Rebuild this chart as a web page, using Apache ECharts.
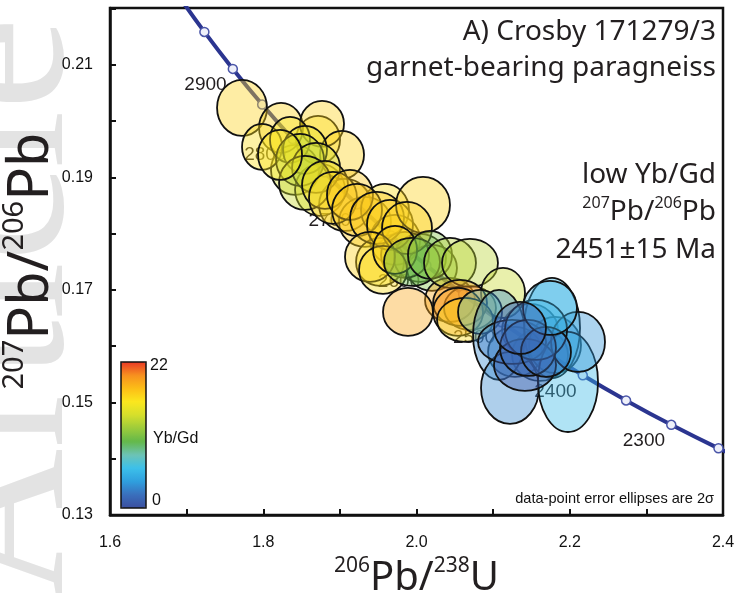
<!DOCTYPE html>
<html>
<head>
<meta charset="utf-8">
<script src="https://cdn.jsdelivr.net/npm/echarts@6/dist/echarts.min.js"></script>
<style>
  html, body { margin: 0; padding: 0; background: #fff; }
  #chart { width: 737px; height: 593px; }
</style>
</head>
<body>
<div id="chart"></div>
<script>
  // concordia marks (Tera-Wasserburg), every 50 Ma
  const concAge = [2200, 2250, 2300, 2350, 2400, 2450, 2500, 2550, 2600, 2650, 2700, 2750, 2800, 2850, 2900, 2950, 3000];
  const concX = [2.4586, 2.3941, 2.3325, 2.2735, 2.2170, 2.1628, 2.1108, 2.0609, 2.0129, 1.9668, 1.9224, 1.8796, 1.8384, 1.7986, 1.7603, 1.7232, 1.6875];
  const concY = [0.13782, 0.14186, 0.14603, 0.15036, 0.15483, 0.15947, 0.16426, 0.16923, 0.17437, 0.17969, 0.18520, 0.19091, 0.19682, 0.20294, 0.20928, 0.21585, 0.22266];

  // zircon spots: centre, 2 sigma half widths, Yb/Gd (drawn in this order)
  const spotX = [1.8715, 1.8414, 1.8741, 1.9067, 1.9328, 1.9589, 1.9720, 1.9524,
    2.0046, 2.0202, 1.9850, 2.0437, 2.0698, 2.1481, 2.1612, 2.1286, 2.1808,
    1.7723, 1.8232, 1.8767, 1.7984, 1.9028, 1.8349, 1.8545, 1.8480, 1.8689, 1.8545,
    1.8219, 1.8806, 1.8910, 1.9132, 1.9224, 1.9485, 1.9654, 2.0085, 1.9876, 1.9393,
    1.9563, 1.9720, 1.9941, 2.0176, 2.0437, 2.0698, 2.1129, 1.9889, 2.0568, 2.0542,
    2.0633, 2.0829,
    2.1077, 2.1220, 2.1769, 2.1977, 2.2108, 2.1247, 2.1416, 2.1560, 2.1455, 2.1690, 2.1742, 2.1351];
  const spotY = [0.19667, 0.19133, 0.18778, 0.18511, 0.18209, 0.18422, 0.17889, 0.17498,
    0.17569, 0.17391, 0.17622, 0.16822, 0.16680, 0.16289, 0.15844, 0.15898, 0.16022,
    0.20236, 0.19880, 0.19951, 0.19542, 0.19400, 0.19667, 0.19489, 0.19311, 0.19169, 0.18902,
    0.19400, 0.18867, 0.18636, 0.18689, 0.18422, 0.18280, 0.18156, 0.18511, 0.18102, 0.17587,
    0.17356, 0.17711, 0.17498, 0.17622, 0.17480, 0.17480, 0.16947, 0.16609, 0.16769, 0.16609,
    0.16467, 0.16609,
    0.16200, 0.15258, 0.16324, 0.15364, 0.16076, 0.16076, 0.15667, 0.16289, 0.15969, 0.15898, 0.16680, 0.16324];
  const spotEx = [0.0287, 0.0313, 0.0326, 0.0339, 0.0339, 0.0313, 0.0326, 0.0313,
    0.0339, 0.0326, 0.0313, 0.0326, 0.0339, 0.0365, 0.0365, 0.0352, 0.0339,
    0.0326, 0.0287, 0.0287, 0.0261, 0.0287, 0.0261, 0.0287, 0.0313, 0.0313, 0.0339,
    0.0287, 0.0300, 0.0313, 0.0300, 0.0326, 0.0352, 0.0300, 0.0352, 0.0326, 0.0326,
    0.0313, 0.0287, 0.0365, 0.0287, 0.0339, 0.0365, 0.0287, 0.0326, 0.0352, 0.0326,
    0.0365, 0.0287,
    0.0339, 0.0378, 0.0365, 0.0392, 0.0352, 0.0444, 0.0405, 0.0405, 0.0365, 0.0326, 0.0352, 0.0339];
  const spotEy = [0.00427, 0.00444, 0.00462, 0.00462, 0.00444, 0.00462, 0.00444, 0.00427,
    0.00427, 0.00409, 0.00409, 0.00391, 0.00391, 0.00462, 0.00462, 0.00444, 0.00498,
    0.00498, 0.00444, 0.00409, 0.00409, 0.00427, 0.00409, 0.00427, 0.00462, 0.00444, 0.00480,
    0.00444, 0.00427, 0.00462, 0.00444, 0.00462, 0.00462, 0.00444, 0.00498, 0.00462, 0.00444,
    0.00427, 0.00427, 0.00427, 0.00427, 0.00444, 0.00427, 0.00444, 0.00427, 0.00409, 0.00427,
    0.00391, 0.00391,
    0.00800, 0.00640, 0.00889, 0.00889, 0.00533, 0.00391, 0.00462, 0.00533, 0.00498, 0.00444, 0.00480, 0.00462];
  const spotYbGd = [16, 14, 15, 17, 17.5, 16.5, 16, 16,
    10.5, 11, 10, 19, 19.5, 1, 1.5, 2.5, 3,
    17, 17, 17, 16.5, 17, 16, 15, 13, 14, 13.5,
    16, 16.5, 17, 17.5, 17.5, 17.5, 17, 17, 17, 17,
    16.5, 17, 10, 11, 13, 13, 13.5, 19, 19.5, 19.5,
    16.5, 7.5,
    3, 3, 5.5, 5.5, 3.5, 2.5, 0.5, 5.5, 1.5, 2, 5, 1];

  // Yb/Gd colour ramp, one stop every 2 units from 0 to 22
  const rampColors = ['#3b4fa0', '#3a6fbc', '#2f9fde', '#3cc0ea', '#6dc3b5', '#63b84a',
    '#9ccb3b', '#d5df2c', '#fbe71e', '#fcbe17', '#f7901f', '#e93a26'];

  const textColor = '#231f20';
  const titleFont = '"Noto Sans", sans-serif';
  const tickFont = '"Liberation Sans", Arial, sans-serif';

  const concData = concAge.map((a, i) => [concX[i], concY[i], a]);
  const spotData = spotX.map((x, i) => [x, spotY[i], spotEx[i], spotEy[i], spotYbGd[i]]);

  const xNameRich = {
    m: { fontSize: 40, lineHeight: 46, fontFamily: titleFont, color: textColor },
    s: { fontSize: 21, lineHeight: 30, verticalAlign: 'top', fontFamily: titleFont, color: textColor }
  };
  const yNameRich = {
    m: { fontSize: 56, lineHeight: 64, fontFamily: titleFont, fill: textColor },
    s: { fontSize: 29, lineHeight: 42, verticalAlign: 'top', fontFamily: titleFont, fill: textColor }
  };
  const boxRich = {
    m: { fontSize: 28, lineHeight: 34, fontFamily: titleFont, fill: textColor },
    s: { fontSize: 16, lineHeight: 22, verticalAlign: 'top', fontFamily: titleFont, fill: textColor }
  };

  var chart = echarts.init(document.getElementById('chart'));
  const option = {
    animation: false,
    backgroundColor: '#fff',
    grid: { left: 110, right: 14, top: 8, bottom: 78, outerBoundsMode: 'none',
      show: true, borderColor: '#111', borderWidth: 2.5 },
    xAxis: {
      type: 'value', min: 1.6, max: 2.4, interval: 0.2,
      name: '{s|206}{m|Pb/}{s|238}{m|U}', nameLocation: 'middle', nameGap: 41,
      nameTextStyle: { rich: xNameRich },
      axisLine: { lineStyle: { color: '#111', width: 2.5 } },
      axisTick: { inside: true, length: 6, lineStyle: { color: '#111', width: 2 } },
      minorTick: { show: true, splitNumber: 2, length: 6, lineStyle: { color: '#111', width: 2 } },
      splitLine: { show: false },
      axisLabel: { margin: 20, fontSize: 16, fontFamily: tickFont, color: '#111',
        formatter: v => v.toFixed(1) }
    },
    yAxis: {
      type: 'value', min: 0.13, max: 0.2201, interval: 0.02,
      axisLine: { lineStyle: { color: '#111', width: 2.5 } },
      axisTick: { inside: true, length: 6, lineStyle: { color: '#111', width: 2 } },
      minorTick: { show: true, splitNumber: 2, length: 6, lineStyle: { color: '#111', width: 2 } },
      splitLine: { show: false },
      axisLabel: { margin: 17, fontSize: 16, fontFamily: tickFont, color: '#111', showMaxLabel: false,
        formatter: v => v.toFixed(2) }
    },
    visualMap: {
      type: 'continuous', min: 0, max: 22, dimension: 4, seriesIndex: 1,
      orient: 'vertical', left: 121, top: 362, itemWidth: 25, itemHeight: 146,
      padding: 0, calculable: false, hoverLink: false,
      inRange: { color: rampColors }
    },
    series: [
      {
        name: 'concordia', type: 'line', data: concData, z: 2,
        symbol: 'circle', symbolSize: 9, smooth: true,
        lineStyle: { color: '#2b3590', width: 4 },
        itemStyle: { color: '#eef0fa', borderColor: '#4a55a8', borderWidth: 1.5 },
        label: {
          show: true, position: 'left', offset: [4, 16], fontSize: 19, fontFamily: tickFont, color: textColor,
          formatter: p => (p.data[2] % 100 === 0 ? String(p.data[2]) : '')
        }
      },
      {
        name: 'spots', type: 'custom', data: spotData, z: 3,
        renderItem: function (params, api) {
          const c = api.coord([api.value(0), api.value(1)]);
          const s = api.size([api.value(2), api.value(3)]);
          return {
            type: 'ellipse',
            shape: { cx: c[0], cy: c[1], rx: s[0], ry: s[1] },
            style: { fill: echarts.color.modifyAlpha(api.visual('color'), 0.4), stroke: '#111', lineWidth: 1.8 }
          };
        }
      }
    ],
    graphic: [
      { type: 'text', x: 112, y: 600, rotation: Math.PI / 2, z: -1, silent: true,
        style: { text: 'Article', font: '210px "Liberation Serif", serif', fill: '#e3e3e3', align: 'left', verticalAlign: 'bottom' } },
      // y axis title
      { type: 'text', x: 32, y: 261, rotation: Math.PI / 2, z: 5,
        style: { text: '{s|207}{m|Pb/}{s|206}{m|Pb}', rich: yNameRich, align: 'center', verticalAlign: 'middle' } },
      { type: 'rect', shape: { x: 121, y: 362, width: 25, height: 146 }, z: 10,
        style: { fill: 'none', stroke: '#111', lineWidth: 1.5 } },
      { type: 'text', x: 150, y: 366, z: 10, style: { text: '22', font: '16px ' + tickFont, fill: '#111', verticalAlign: 'middle' } },
      { type: 'text', x: 152, y: 501, z: 10, style: { text: '0', font: '16px ' + tickFont, fill: '#111', verticalAlign: 'middle' } },
      { type: 'text', x: 153, y: 439, z: 10, style: { text: 'Yb/Gd', font: '16px ' + tickFont, fill: '#111', verticalAlign: 'middle' } },
      { type: 'text', x: 716, y: 32, z: 10, style: { text: 'A) Crosby 171279/3', font: '28px ' + titleFont, fill: textColor, align: 'right', verticalAlign: 'middle' } },
      { type: 'text', x: 716, y: 68, z: 10, style: { text: 'garnet-bearing paragneiss', font: '28px ' + titleFont, fill: textColor, align: 'right', verticalAlign: 'middle' } },
      { type: 'text', x: 716, y: 175, z: 10, style: { text: 'low Yb/Gd', font: '28px ' + titleFont, fill: textColor, align: 'right', verticalAlign: 'middle' } },
      { type: 'text', x: 716, y: 212, z: 10, style: { text: '{s|207}{m|Pb/}{s|206}{m|Pb}', rich: boxRich, align: 'right', verticalAlign: 'middle' } },
      { type: 'text', x: 716, y: 250, z: 10, style: { text: '2451±15 Ma', font: '28px ' + titleFont, fill: textColor, align: 'right', verticalAlign: 'middle' } },
      { type: 'text', x: 714, y: 499, z: 10, style: { text: 'data-point error ellipses are 2σ', font: '14.6px ' + tickFont, fill: '#111', align: 'right', verticalAlign: 'middle' } }
    ]
  };
  chart.setOption(option);
</script>
</body>
</html>
